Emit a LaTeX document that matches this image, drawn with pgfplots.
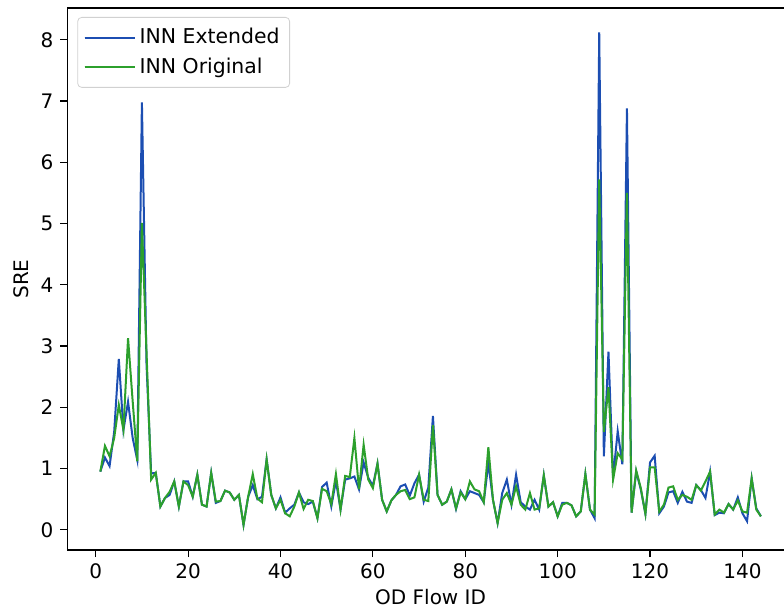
\documentclass[border=0pt]{standalone}
\usepackage{fontspec}
\setmainfont{DejaVu Sans}
\usepackage{pgfplots}
\pgfplotsset{compat=1.18}
\definecolor{extblue}{RGB}{28,78,178}
\definecolor{orggreen}{RGB}{44,160,44}
\begin{document}
\begin{tikzpicture}
\begin{axis}[
  scale only axis,
  width=363.3pt, height=271pt,
  xmin=-6.15, xmax=151.15, ymin=-0.33, ymax=8.52,
  xtick={0,20,...,140}, ytick={0,1,...,8},
  tick align=outside, tick pos=left,
  major tick length=3.5pt,
  every tick/.style={black, line width=0.6pt},
  axis line style={line width=0.6pt},
  /pgf/number format/assume math mode=true,
  ticklabel style={font=\fontsize{10}{12}\selectfont},
  label style={font=\fontsize{10}{12}\selectfont},
  xlabel={OD Flow ID}, ylabel={SRE},
  xlabel style={yshift=2pt},
  ylabel style={yshift=-1pt},
  legend cell align=left,
  legend style={at={(0,1)}, anchor=north west, xshift=5pt, yshift=-4.5pt,
    draw=black!18, rounded corners=2pt, fill=white,
    font=\fontsize{10.2}{12}\selectfont,
    inner xsep=3pt, inner ysep=3.5pt,
    row sep=1.5pt},
  legend image code/.code={\draw[#1] (0pt,0pt) -- (20.5pt,0pt); \path (0pt,0pt) -- (25pt,0pt);},
]
\addplot[extblue, line width=1pt] table[x=i, y=b] {
i b
1 0.95
2 1.18
3 1.04
4 1.60
5 2.79
6 1.63
7 2.09
8 1.50
9 1.14
10 6.98
11 2.70
12 0.92
13 0.93
14 0.38
15 0.52
16 0.57
17 0.79
18 0.38
19 0.79
20 0.79
21 0.54
22 0.90
23 0.41
24 0.38
25 0.93
26 0.44
27 0.47
28 0.64
29 0.61
30 0.49
31 0.57
32 0.08
33 0.54
34 0.73
35 0.50
36 0.54
37 1.15
38 0.57
39 0.35
40 0.53
41 0.28
42 0.35
43 0.41
44 0.61
45 0.45
46 0.42
47 0.46
48 0.19
49 0.70
50 0.77
51 0.38
52 0.80
53 0.33
54 0.82
55 0.84
56 0.87
57 0.66
58 1.10
59 0.85
60 0.72
61 1.08
62 0.49
63 0.30
64 0.48
65 0.57
66 0.71
67 0.74
68 0.56
69 0.76
70 0.90
71 0.46
72 0.69
73 1.86
74 0.57
75 0.41
76 0.46
77 0.66
78 0.34
79 0.63
80 0.50
81 0.63
82 0.60
83 0.57
84 0.45
85 1.09
86 0.49
87 0.11
88 0.60
89 0.82
90 0.41
91 0.90
92 0.45
93 0.38
94 0.33
95 0.49
96 0.33
97 0.89
98 0.38
99 0.45
100 0.22
101 0.44
102 0.44
103 0.40
104 0.22
105 0.30
106 0.91
107 0.33
108 0.19
109 8.12
110 1.20
111 2.91
112 0.85
113 1.61
114 1.07
115 6.88
116 0.28
117 0.95
118 0.66
119 0.26
120 1.10
121 1.21
122 0.27
123 0.38
124 0.61
125 0.63
126 0.44
127 0.62
128 0.46
129 0.44
130 0.73
131 0.65
132 0.52
133 0.95
134 0.24
135 0.28
136 0.27
137 0.42
138 0.33
139 0.53
140 0.27
141 0.14
142 0.84
143 0.35
144 0.22
};
\addlegendentry{INN Extended}
\addplot[orggreen, line width=1pt] table[x=i, y=g] {
i g
1 0.95
2 1.37
3 1.20
4 1.50
5 2.04
6 1.63
7 3.13
8 2.10
9 1.12
10 5.01
11 2.90
12 0.82
13 0.93
14 0.38
15 0.52
16 0.62
17 0.79
18 0.38
19 0.79
20 0.73
21 0.54
22 0.90
23 0.41
24 0.38
25 0.93
26 0.46
27 0.47
28 0.64
29 0.61
30 0.49
31 0.57
32 0.08
33 0.54
34 0.91
35 0.51
36 0.45
37 1.15
38 0.57
39 0.35
40 0.49
41 0.27
42 0.22
43 0.38
44 0.61
45 0.34
46 0.49
47 0.47
48 0.19
49 0.67
50 0.63
51 0.42
52 0.91
53 0.33
54 0.88
55 0.86
56 1.50
57 0.66
58 1.39
59 0.82
60 0.68
61 1.08
62 0.49
63 0.30
64 0.48
65 0.57
66 0.63
67 0.65
68 0.50
69 0.53
70 0.90
71 0.49
72 0.47
73 1.71
74 0.57
75 0.41
76 0.46
77 0.66
78 0.35
79 0.61
80 0.50
81 0.79
82 0.66
83 0.63
84 0.45
85 1.35
86 0.49
87 0.11
88 0.49
89 0.60
90 0.41
91 0.71
92 0.41
93 0.33
94 0.60
95 0.33
96 0.35
97 0.89
98 0.38
99 0.45
100 0.22
101 0.41
102 0.44
103 0.40
104 0.22
105 0.30
106 0.91
107 0.33
108 0.25
109 5.72
110 1.60
111 2.33
112 0.82
113 1.25
114 1.15
115 5.50
116 0.28
117 0.97
118 0.68
119 0.26
120 1.02
121 1.02
122 0.30
123 0.41
124 0.69
125 0.71
126 0.49
127 0.57
128 0.54
129 0.49
130 0.73
131 0.64
132 0.79
133 0.95
134 0.25
135 0.33
136 0.28
137 0.42
138 0.33
139 0.48
140 0.30
141 0.28
142 0.84
143 0.33
144 0.22
};
\addlegendentry{INN Original}
\coordinate (BL) at (axis cs:-6.15,-0.33);
\coordinate (TR) at (axis cs:149,8.52);
\end{axis}
\pgfresetboundingbox
\path[use as bounding box] ([xshift=-33.65pt,yshift=-29.5pt]BL) rectangle ([yshift=4pt]TR);
\end{tikzpicture}
\end{document}
